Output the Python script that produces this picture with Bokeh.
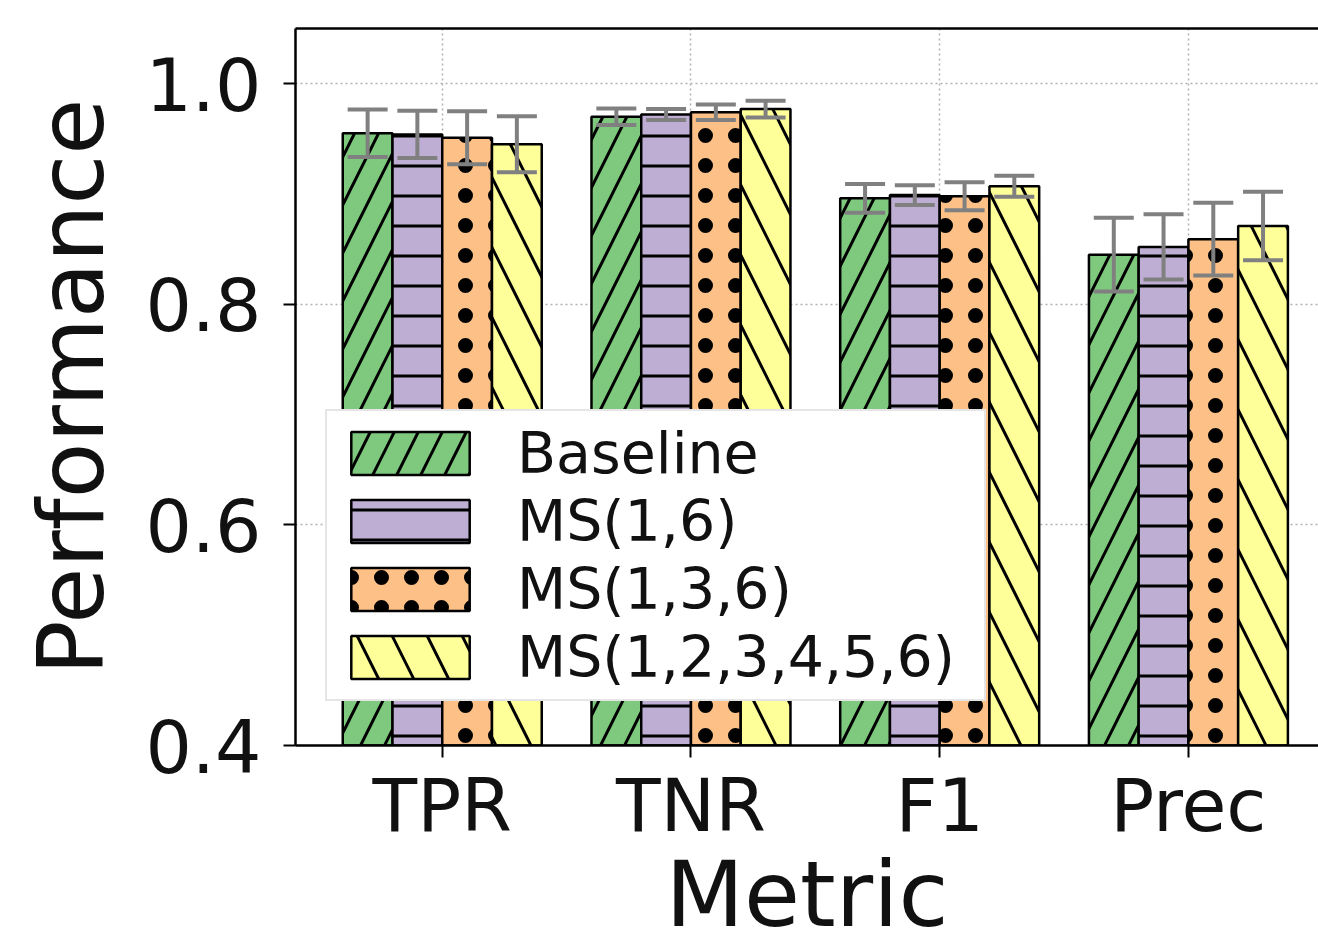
from bokeh.plotting import figure
from bokeh.models import (Range1d, FixedTicker, Whisker, ColumnDataSource, LinearAxis,
                          TeeHead, Legend, LegendItem, Grid)
from bokeh.embed import file_html
from bokeh.resources import INLINE

metrics = ["TPR", "TNR", "F1", "Prec"]
series = ["Baseline", "MS(1,6)", "MS(1,3,6)", "MS(1,2,3,4,5,6)"]

baseline = [0.955, 0.970, 0.896, 0.845]
ms_1_6 = [0.954, 0.972, 0.899, 0.852]
ms_1_3_6 = [0.951, 0.974, 0.898, 0.859]
ms_1_2_3_4_5_6 = [0.945, 0.977, 0.907, 0.871]

err_baseline = [0.0215, 0.0075, 0.013, 0.0335]
err_ms_1_6 = [0.0215, 0.005, 0.009, 0.0295]
err_ms_1_3_6 = [0.024, 0.007, 0.0127, 0.033]
err_ms_1_2_3_4_5_6 = [0.0254, 0.0076, 0.0095, 0.031]

y_ticks = [0.4, 0.6, 0.8, 1.0]

values = [baseline, ms_1_6, ms_1_3_6, ms_1_2_3_4_5_6]
errors = [err_baseline, err_ms_1_6, err_ms_1_3_6, err_ms_1_2_3_4_5_6]
colors = ["#7fc97f", "#beaed4", "#fdc086", "#ffff99"]
hatches = ["right_diagonal_line", "horizontal_line", "dot", "left_diagonal_line"]
hatch_scales = [48, 30, 30, 70]
hatch_weights = [3, 3, 1.5, 3]

FONT = "DejaVu Sans"
bar_w = 0.2
offsets = [-0.3, -0.1, 0.1, 0.3]

p = figure(width=1318, height=950, output_backend="svg", toolbar_location=None,
           x_range=Range1d(-0.59, 3.523), y_range=Range1d(0.4, 1.05),
           min_border_left=295, min_border_right=0, min_border_top=28,
           min_border_bottom=205)
p.outline_line_color = None
p.xaxis.visible = False
p.yaxis.visible = False
for g in list(p.center):
    p.center.remove(g)

xaxis = LinearAxis(ticker=FixedTicker(ticks=list(range(len(metrics)))),
                   major_label_overrides={i: m for i, m in enumerate(metrics)})
yaxis = LinearAxis(ticker=FixedTicker(ticks=y_ticks),
                   major_label_overrides={t: f"{t:.1f}" for t in y_ticks})
top_axis = LinearAxis(ticker=FixedTicker(ticks=[]), major_label_text_font_size="0px",
                      major_tick_out=0, major_label_standoff=0, axis_line_width=2.5,
                      axis_line_color="black")
p.add_layout(xaxis, "below")
p.add_layout(yaxis, "left")
p.add_layout(top_axis, "above")

for ax in (xaxis, yaxis):
    ax.axis_line_width = 2.5
    ax.axis_line_color = "black"
    ax.major_tick_line_width = 2
    ax.major_tick_out = 12
    ax.major_tick_in = 0
    ax.minor_tick_line_color = None
    ax.major_label_text_font = FONT
    ax.major_label_text_font_size = "73px"
    ax.major_label_text_color = "#111111"
    ax.axis_label_text_font = FONT
    ax.axis_label_text_font_size = "91px"
    ax.axis_label_text_font_style = "normal"
    ax.axis_label_text_color = "#111111"
xaxis.axis_label = "Metric"
yaxis.axis_label = "Performance"
xaxis.major_label_standoff = 5
xaxis.axis_label_standoff = -9
yaxis.major_label_standoff = 22
yaxis.axis_label_standoff = 18

xgrid = Grid(dimension=0, ticker=xaxis.ticker, grid_line_color="#b0b0b0",
             grid_line_dash="2 3", grid_line_width=1.5)
ygrid = Grid(dimension=1, ticker=yaxis.ticker, grid_line_color="#b0b0b0",
             grid_line_dash="2 3", grid_line_width=1.5)
p.add_layout(xgrid, "center")
p.add_layout(ygrid, "center")

items = []
for k in range(len(series)):
    xs = [i + offsets[k] for i in range(len(metrics))]
    src = ColumnDataSource(dict(x=xs, top=values[k],
                                upper=[v + e for v, e in zip(values[k], errors[k])],
                                lower=[v - e for v, e in zip(values[k], errors[k])]))
    r = p.vbar(x="x", top="top", bottom=0, width=bar_w, source=src,
               fill_color=colors[k], line_color="black", line_width=2.5,
               hatch_pattern=hatches[k], hatch_color="black",
               hatch_weight=hatch_weights[k], hatch_scale=hatch_scales[k])
    items.append(LegendItem(label=series[k], renderers=[r]))
    w = Whisker(base="x", upper="upper", lower="lower", source=src,
                line_color="#808080", line_width=4, level="annotation",
                upper_head=TeeHead(size=40, line_color="#808080", line_width=4),
                lower_head=TeeHead(size=40, line_color="#808080", line_width=4))
    p.add_layout(w)

legend = Legend(items=items, location=(30, 44), orientation="vertical",
                label_text_font=FONT, label_text_font_size="57px",
                label_text_color="#111111",
                glyph_width=148, glyph_height=54, label_standoff=33,
                label_width=458,
                padding=9, spacing=2, margin=0,
                border_line_color="#cccccc", border_line_width=2,
                background_fill_color="white", background_fill_alpha=1.0)
p.add_layout(legend, "center")

open("out.html", "w").write(file_html(p, INLINE))
